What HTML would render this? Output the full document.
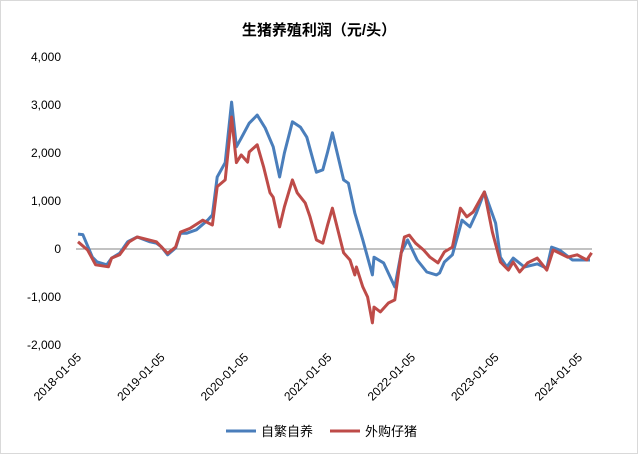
<!DOCTYPE html>
<html><head><meta charset="utf-8"><style>
body{margin:0;background:#fff}
svg{display:block;font-family:"Liberation Sans","Noto Sans CJK SC",sans-serif}
</style></head><body>
<svg width="638" height="454">
<rect x="0.5" y="0.5" width="637" height="453" fill="#fff" stroke="#d9d9d9"/>
<text x="319" y="35" text-anchor="middle" font-size="15" font-weight="bold" fill="#000">生猪养殖利润（元/头）</text>
<g id="yaxis"></g>
<g id="xaxis"></g>
<g id="series"></g>
<g>
<line x1="226" y1="431" x2="256" y2="431" stroke="#4a7ebb" stroke-width="3"/>
<text x="261" y="436" font-size="13" fill="#000">自繁自养</text>
<line x1="330" y1="431" x2="360" y2="431" stroke="#be4b48" stroke-width="3"/>
<text x="365" y="436" font-size="13" fill="#000">外购仔猪</text>
</g>
</svg>
<script>
const yTicks=[4000,3000,2000,1000,0,-1000,-2000];
const yTickLabels=["4,000","3,000","2,000","1,000","0","-1,000","-2,000"];
const xTickLabels=["2018-01-05","2019-01-05","2020-01-05","2021-01-05","2022-01-05","2023-01-05","2024-01-05"];
const xTickWeeks=[0,52.2,104.4,156.5,208.7,260.9,313.1];
const selfWeeks=[0,3,9,12,18,21,26,31,37,45,49,52,56,61,64,68,74,81,84,87,92,96,99,102,107,112,117,122,126,129,134,139,143,149,153,156,159,166,169,173,178,184,185,191,198,202,206,212,218,224,226,229,234,240,245,249,254,261,264,268,272,279,287,293,296,301,309,320];
const selfValues=[310,300,-170,-270,-330,-190,-90,150,250,150,120,50,-120,20,330,330,400,600,710,1500,1800,3060,2130,2310,2620,2790,2520,2130,1500,2000,2650,2540,2330,1600,1650,2020,2420,1440,1370,750,190,-540,-170,-290,-790,-80,190,-230,-480,-540,-500,-270,-120,600,460,750,1190,540,-170,-375,-190,-375,-310,-400,40,-20,-230,-230];
const boughtWeeks=[0,6,11,19,21,26,32,37,49,56,61,64,70,78,84,87,92,96,99,102,106,107,112,116,120,122,126,129,134,137,142,145,149,153,156,159,166,170,173,174,178,181,184,185,189,194,198,202,204,207,211,216,220,225,229,234,239,243,247,254,259,264,269,272,276,281,287,293,297,306,312,318,321];
const boughtValues=[150,-20,-330,-370,-190,-120,150,250,150,-90,40,350,430,600,500,1300,1440,2750,1800,1960,1810,2020,2170,1710,1170,1080,460,880,1440,1170,960,670,190,120,500,850,-80,-230,-540,-375,-790,-1000,-1540,-1210,-1310,-1125,-1060,-80,250,290,120,-20,-170,-290,-60,40,850,670,770,1190,350,-270,-440,-270,-480,-290,-190,-440,-20,-170,-120,-230,-80];
const NS="http://www.w3.org/2000/svg";
const xs=w=>78+w/0.625;
const ys=v=>249-v*0.048;
const ya=document.getElementById('yaxis');
yTicks.forEach((t,i)=>{
 const tx=document.createElementNS(NS,'text');
 
 
 tx.setAttribute('x',61);tx.setAttribute('y',ys(t)+4);
 tx.setAttribute('text-anchor','end');tx.setAttribute('font-size','12');
 tx.textContent=yTickLabels[i];ya.appendChild(tx);
});
const xa=document.getElementById('xaxis');
const zl=document.createElementNS(NS,'line');


zl.setAttribute('x1',76);zl.setAttribute('x2',592);zl.setAttribute('y1',ys(0));zl.setAttribute('y2',ys(0));
zl.setAttribute('stroke','#868686');zl.setAttribute('stroke-width','1');xa.appendChild(zl);
xTickLabels.forEach((l,i)=>{
 const x=xs(xTickWeeks[i]);
 const tx=document.createElementNS(NS,'text');
 
 
 tx.setAttribute('text-anchor','end');tx.setAttribute('font-size','12');
 tx.setAttribute('transform','translate('+(x+4)+',358) rotate(-45)');
 tx.textContent=l;xa.appendChild(tx);
});
const sg=document.getElementById('series');
function line(ws,vs,color,name){
 const p=document.createElementNS(NS,'polyline');
 
 
 p.setAttribute('points',ws.map((w,i)=>xs(w).toFixed(1)+','+ys(vs[i]).toFixed(1)).join(' '));
 p.setAttribute('fill','none');p.setAttribute('stroke',color);p.setAttribute('stroke-width','3');
 p.setAttribute('stroke-linejoin','round');sg.appendChild(p);
}
line(selfWeeks,selfValues,'#4a7ebb','series-self-breeding');
line(boughtWeeks,boughtValues,'#be4b48','series-bought-piglets');
</script>
</body></html>
